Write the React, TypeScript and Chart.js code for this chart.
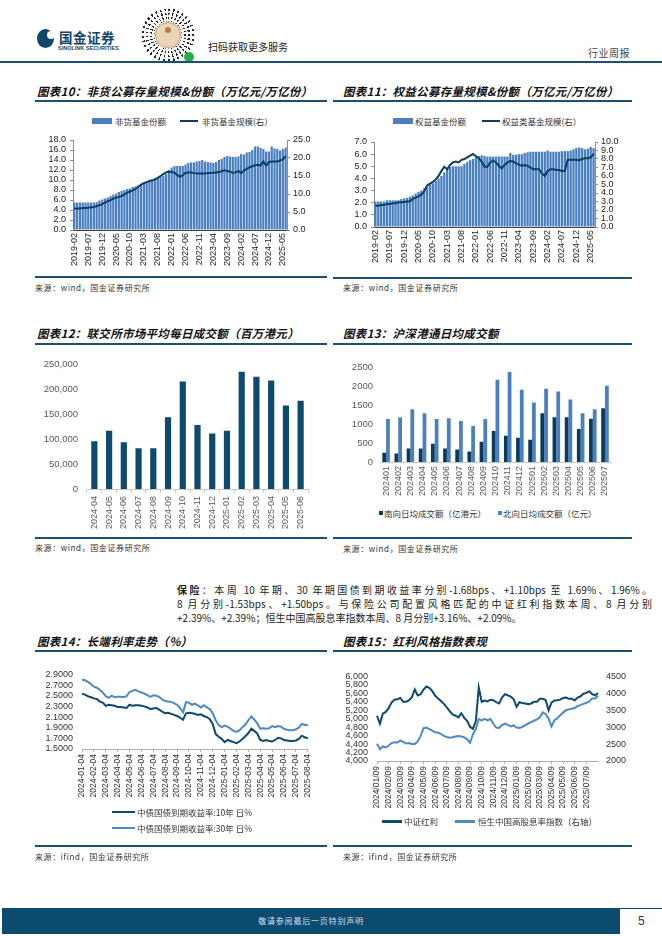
import React, { useEffect, useRef } from 'react';
import { Chart, registerables } from 'chart.js';

Chart.register(...registerables);

const NUM = '"Liberation Sans", Arial, sans-serif';
const CJK = '"Noto Sans CJK SC", "Noto Sans", sans-serif';

const NAVY = '#0d4a6e';
const NAVY_DARK = '#0a3b5b';
const BLUE = '#4a7fc1';
const BLUE_LINE = '#4d88c7';
const RULE = '#1d4f6f';

Chart.defaults.font.family = NUM;
Chart.defaults.color = '#333';

// ---------------- 图表10 / 图表11 (monthly 2019-02 .. 2025-06) ----------------
const fundMonths = [
  '2019-02','2019-03','2019-04','2019-05','2019-06','2019-07','2019-08','2019-09','2019-10','2019-11','2019-12',
  '2020-01','2020-02','2020-03','2020-04','2020-05','2020-06','2020-07','2020-08','2020-09','2020-10','2020-11','2020-12',
  '2021-01','2021-02','2021-03','2021-04','2021-05','2021-06','2021-07','2021-08','2021-09','2021-10','2021-11','2021-12',
  '2022-01','2022-02','2022-03','2022-04','2022-05','2022-06','2022-07','2022-08','2022-09','2022-10','2022-11','2022-12',
  '2023-01','2023-02','2023-03','2023-04','2023-05','2023-06','2023-07','2023-08','2023-09','2023-10','2023-11','2023-12',
  '2024-01','2024-02','2024-03','2024-04','2024-05','2024-06','2024-07','2024-08','2024-09','2024-10','2024-11','2024-12',
  '2025-01','2025-02','2025-03','2025-04','2025-05','2025-06',
];
const fundTickLabels = ['2019-02','2019-07','2019-12','2020-05','2020-10','2021-03','2021-08','2022-01','2022-06','2022-11','2023-04','2023-09','2024-02','2024-07','2024-12','2025-05'];

const nonMmfShares = [
  5.5,5.5,5.5,5.5,5.5,5.5,5.5,5.5,5.6,5.9,
  6.1,6.3,6.5,6.8,7.1,7.3,7.6,7.8,8.0,8.2,
  8.3,8.6,8.7,8.9,9.1,9.4,9.5,9.8,10.0,10.2,
  10.4,10.6,10.8,11.2,12.0,12.5,12.8,12.8,12.8,12.8,
  13.1,13.4,13.5,13.5,13.7,13.8,14.0,13.7,13.6,13.5,
  13.4,13.6,14.0,14.2,14.6,14.8,14.7,14.6,14.6,14.7,
  15.2,15.1,15.5,15.6,16.0,16.7,16.7,16.4,16.2,15.7,
  15.7,16.7,16.3,16.2,15.9,16.2,16.5,
];
const nonMmfScale = [
  5.9,6.0,6.0,6.1,6.1,6.2,6.3,6.4,6.6,6.9,
  7.2,7.6,8.0,8.3,8.7,9.0,9.2,9.4,9.9,10.4,
  10.7,11.0,11.4,12.0,12.6,13.0,13.3,13.6,13.8,14.1,
  14.5,15.0,15.5,16.0,16.2,16.1,15.9,15.3,14.8,15.2,
  15.9,16.0,16.0,15.8,15.7,15.7,15.7,15.7,15.8,15.8,
  15.9,16.0,16.1,16.3,16.6,16.4,16.2,15.9,16.0,16.4,
  15.8,16.5,17.0,17.4,17.7,18.0,18.1,17.9,19.0,17.9,
  18.9,19.0,19.0,19.0,19.3,19.6,20.5,
];
const equityShares = [
  2.1,2.1,2.1,2.1,2.2,2.2,2.2,2.2,2.2,2.3,
  2.35,2.4,2.5,2.6,2.75,2.9,3.0,3.2,3.3,3.5,
  3.6,3.8,4.0,4.2,4.5,4.8,4.95,5.0,5.0,5.0,
  5.0,5.2,5.35,5.5,5.6,5.7,5.85,5.9,5.85,5.8,
  5.8,5.8,5.8,5.8,5.8,5.8,5.8,6.1,5.95,5.95,
  6.0,6.0,6.1,6.15,6.2,6.2,6.2,6.2,6.2,6.2,
  6.3,6.2,6.2,6.2,6.2,6.25,6.25,6.25,6.3,6.4,
  6.5,6.55,6.5,6.4,6.45,6.6,6.5,
];
const equityScale = [
  2.5,2.5,2.6,2.6,2.7,2.7,2.8,2.8,2.9,2.9,
  2.95,3.0,3.0,3.3,3.45,3.6,3.8,4.2,4.9,5.1,
  5.3,5.6,6.0,6.6,7.1,6.8,7.3,7.6,7.7,7.6,
  7.9,8.0,8.2,8.4,8.6,8.3,8.1,7.7,7.1,7.1,
  7.6,7.8,7.6,7.2,6.9,7.3,7.6,7.75,7.7,7.5,
  7.3,7.2,7.3,7.2,7.0,6.8,6.8,6.8,6.3,6.0,
  6.6,6.8,6.8,6.7,6.7,6.6,6.6,7.9,7.9,7.9,
  7.9,7.85,8.0,8.1,8.1,8.2,8.6,
];

// ---------------- 图表12 ----------------
const hkMonths = ['2024-04','2024-05','2024-06','2024-07','2024-08','2024-09','2024-10','2024-11','2024-12','2025-01','2025-02','2025-03','2025-04','2025-05','2025-06'];
const hkTurnover = [95800,117200,93900,82200,82200,144400,216300,128900,111400,117200,235700,226000,218300,167700,177500];

// ---------------- 图表13 ----------------
const connectMonths = ['202401','202402','202403','202404','202405','202406','202407','202408','202409','202410','202411','202412','202501','202502','202503','202504','202505','202506','202507'];
const southbound = [243,226,356,356,486,356,330,278,538,825,694,642,590,1293,1189,1189,877,1146,1424];
const northbound = [1137,1189,1398,1293,1137,1163,1085,955,1137,2179,2387,1918,1580,1944,1866,1658,1293,1398,2023];

// ---------------- 图表14 ----------------
const bondDates = [
  '2024-01-04','2024-01-11','2024-01-18','2024-01-25','2024-02-04','2024-02-11','2024-02-18','2024-02-25',
  '2024-03-04','2024-03-11','2024-03-18','2024-03-25','2024-04-04','2024-04-11','2024-04-18','2024-04-25',
  '2024-05-04','2024-05-11','2024-05-18','2024-05-25','2024-06-04','2024-06-11','2024-06-18','2024-06-25',
  '2024-07-04','2024-07-11','2024-07-18','2024-07-25','2024-08-04','2024-08-11','2024-08-18','2024-08-25',
  '2024-09-04','2024-09-11','2024-09-18','2024-09-25','2024-10-04','2024-10-11','2024-10-18','2024-10-25',
  '2024-11-04','2024-11-11','2024-11-18','2024-11-25','2024-12-04','2024-12-11','2024-12-18','2024-12-25',
  '2025-01-04','2025-01-11','2025-01-18','2025-01-25','2025-02-04','2025-02-11','2025-02-18','2025-02-25',
  '2025-03-04','2025-03-11','2025-03-18','2025-03-25','2025-04-04','2025-04-11','2025-04-18','2025-04-25',
  '2025-05-04','2025-05-11','2025-05-18','2025-05-25','2025-06-04','2025-06-11','2025-06-18','2025-06-25',
  '2025-07-04','2025-07-11','2025-07-18','2025-07-25','2025-08-04',
];
const cgb10y = [
  2.54,2.52,2.49,2.47, 2.45,2.44,2.39,2.37, 2.31,2.33,2.32,2.31, 2.29,2.29,2.28,2.27,
  2.33,2.31,2.32,2.32, 2.31,2.30,2.28,2.25, 2.26,2.27,2.24,2.20, 2.17,2.18,2.16,2.14,
  2.12,2.09,2.05,2.17, 2.18,2.17,2.16,2.14, 2.15,2.12,2.10,2.06, 1.97,1.78,1.73,1.69,
  1.63,1.67,1.65,1.63, 1.61,1.64,1.69,1.74, 1.80,1.88,1.84,1.79, 1.67,1.65,1.67,1.65,
  1.64,1.67,1.71,1.70, 1.67,1.66,1.65,1.65, 1.66,1.69,1.75,1.72, 1.70,
];
const cgb30y = [
  2.80,2.79,2.76,2.72, 2.67,2.65,2.61,2.56, 2.49,2.46,2.50,2.47, 2.48,2.48,2.47,2.49,
  2.57,2.59,2.61,2.58, 2.56,2.54,2.51,2.48, 2.51,2.50,2.48,2.43, 2.40,2.39,2.38,2.36,
  2.33,2.27,2.19,2.38, 2.37,2.33,2.35,2.32, 2.28,2.32,2.28,2.25, 2.17,2.04,1.95,1.91,
  1.94,1.92,1.88,1.84, 1.82,1.85,1.91,1.96, 2.04,2.11,2.05,1.98, 1.88,1.89,1.88,1.89,
  1.93,1.91,1.93,1.92, 1.88,1.86,1.85,1.85, 1.87,1.90,1.97,1.95, 1.95,
];

// ---------------- 图表15 ----------------
const divDates = [
  '2024/01/09','2024/01/16','2024/01/23','2024/01/30','2024/02/09','2024/02/16','2024/02/23','2024/02/29',
  '2024/03/09','2024/03/16','2024/03/23','2024/03/30','2024/04/09','2024/04/16','2024/04/23','2024/04/30',
  '2024/05/09','2024/05/16','2024/05/23','2024/05/30','2024/06/09','2024/06/16','2024/06/23','2024/06/30',
  '2024/07/09','2024/07/16','2024/07/23','2024/07/30','2024/08/09','2024/08/16','2024/08/23','2024/08/30',
  '2024/09/09','2024/09/16','2024/09/23','2024/09/30','2024/10/09','2024/10/16','2024/10/23','2024/10/30',
  '2024/11/09','2024/11/16','2024/11/23','2024/11/30','2024/12/09','2024/12/16','2024/12/23','2024/12/30',
  '2025/01/09','2025/01/16','2025/01/23','2025/01/30','2025/02/09','2025/02/16','2025/02/23','2025/02/28',
  '2025/03/09','2025/03/16','2025/03/23','2025/03/30','2025/04/09','2025/04/16','2025/04/23','2025/04/30',
  '2025/05/09','2025/05/16','2025/05/23','2025/05/30','2025/06/09','2025/06/16','2025/06/23','2025/06/30',
  '2025/07/09','2025/07/16','2025/07/23','2025/07/30','2025/08/06',
];
const csiDividend = [
  5070,4880,5120,5160, 5250,5380,5450,5460, 5490,5400,5400,5430, 5510,5690,5550,5580,
  5690,5760,5730,5650, 5545,5480,5420,5350, 5270,5180,5100,5070, 5030,5130,5020,4950,
  4810,4760,4950,5740, 5400,5430,5410,5450, 5440,5390,5360,5500, 5580,5550,5520,5460,
  5280,5390,5370,5360, 5340,5360,5400,5400, 5470,5470,5440,5200, 5380,5430,5435,5450,
  5490,5500,5470,5470, 5435,5500,5530,5590, 5610,5650,5580,5550, 5610,
];
const hsHighDiv = [
  2512,2350,2430,2400, 2450,2530,2555,2545, 2600,2565,2520,2530, 2500,2500,2580,2740,
  2970,2990,2940,2900, 2850,2835,2800,2740, 2710,2690,2700,2723, 2741,2723,2700,2640,
  2540,2790,2950,3240, 3199,3245,3200,3240, 3100,2990,2980,3060, 3108,3070,3020,3050,
  2990,2975,3010,3060, 3108,3150,3190,3230, 3290,3440,3390,3250, 3020,3199,3260,3350,
  3430,3500,3525,3547, 3566,3630,3650,3690, 3720,3760,3850,3850, 3930,
];

// ---------------- helpers ----------------
const noPlugins = { legend: { display: false }, tooltip: { enabled: false } };
const fixW = (w: number) => (s: any) => { s.width = w; };
const fixH = (h: number) => (s: any) => { s.height = h; };
const rotX = (size: number, padding: number, color: string, cb: (i: number) => string | null) => ({
  autoSkip: false, minRotation: 90, maxRotation: 90, padding, color,
  font: { family: NUM, size }, callback: (_v: any, i: number) => cb(i),
});
const yTicks = (step: number, padding: number, color: string, size: number, fmt: (v: number) => string) => ({
  stepSize: step, padding, color, autoSkip: false, font: { family: NUM, size }, callback: (v: number) => fmt(v),
});

function ChartCanvas({ x, y, w, h, make }: { x: number; y: number; w: number; h: number; make: () => any }) {
  const ref = useRef<HTMLCanvasElement>(null);
  useEffect(() => {
    const c = new Chart(ref.current as HTMLCanvasElement, make());
    return () => c.destroy();
  }, []);
  return (
    <canvas ref={ref} width={w} height={h}
      style={{ position: 'absolute', left: x, top: y, width: w, height: h, display: 'block' }} />
  );
}

function fundChart(labelsTick: string[], shares: number[], scale: number[], leftMax: number, leftStep: number,
  rightMax: number, rightStep: number, lw: number, rw: number, padTop: number, xh: number, barLabel: string, lineLabel: string) {
  return () => ({
    type: 'bar',
    data: {
      labels: fundMonths,
      datasets: [
        { type: 'line', label: lineLabel, data: scale, yAxisID: 'y1', borderColor: '#0b3f62', borderWidth: 2,
          pointRadius: 0, tension: 0, order: 0 },
        { type: 'bar', label: barLabel, data: shares, yAxisID: 'y', backgroundColor: BLUE,
          barPercentage: 0.8, categoryPercentage: 1, order: 1 },
      ],
    },
    options: {
      responsive: false, animation: false, maintainAspectRatio: false,
      layout: { padding: { top: padTop, left: 0, right: 0, bottom: 0 } },
      plugins: noPlugins,
      scales: {
        x: {
          grid: { display: false, drawTicks: false },
          border: { display: true, color: '#404040', width: 1 },
          ticks: rotX(9, 3, '#222', (i) => (labelsTick.includes(fundMonths[i]) ? fundMonths[i] : null)),
          afterFit: fixH(xh),
        },
        y: {
          position: 'left', min: 0, max: leftMax,
          ticks: yTicks(leftStep, 4, '#222', 9, (v) => v.toFixed(1)),
          grid: { display: true, drawOnChartArea: false, drawTicks: true, tickLength: 3, color: '#8c8c8c' },
          border: { display: true, color: '#8c8c8c' },
          afterFit: fixW(lw),
        },
        y1: {
          position: 'right', min: 0, max: rightMax,
          ticks: yTicks(rightStep, 3, '#222', 9, (v) => v.toFixed(1)),
          grid: { display: true, drawOnChartArea: false, drawTicks: true, tickLength: 3, color: '#8c8c8c' },
          border: { display: true, color: '#8c8c8c' },
          afterFit: fixW(rw),
        },
      },
    },
  });
}

const chart10 = fundChart(fundTickLabels, nonMmfShares, nonMmfScale, 18, 2, 25, 5, 43, 33, 10, 46, '非货基金份额', '非货基金规模(右）');
const chart11 = fundChart(fundTickLabels, equityShares, equityScale, 7, 1, 10, 1, 44, 25, 12, 49, '权益基金份额', '权益类基金规模(右）');

const chart12 = () => ({
  type: 'bar',
  data: { labels: hkMonths, datasets: [{ label: '联交所市场平均每日成交额', data: hkTurnover, backgroundColor: NAVY, barPercentage: 0.42, categoryPercentage: 1 }] },
  options: {
    responsive: false, animation: false, maintainAspectRatio: false,
    layout: { padding: { top: 11, right: 12, left: 0, bottom: 0 } },
    plugins: noPlugins,
    scales: {
      x: {
        grid: { display: true, drawOnChartArea: false, drawTicks: true, tickLength: 4, color: '#c8c8c8' },
        border: { display: true, color: '#c8c8c8' },
        ticks: rotX(9, 3, '#595959', (i) => hkMonths[i]),
        afterFit: fixH(46),
      },
      y: {
        min: 0, max: 250000,
        ticks: yTicks(50000, 9, '#595959', 9.5, (v) => v.toLocaleString('en-US')),
        grid: { display: false, drawTicks: false },
        border: { display: false },
        afterFit: fixW(57),
      },
    },
  },
});

const chart13 = () => ({
  type: 'bar',
  data: {
    labels: connectMonths,
    datasets: [
      { label: '南向日均成交额（亿港元）', data: southbound, backgroundColor: NAVY_DARK, barPercentage: 1, categoryPercentage: 0.62 },
      { label: '北向日均成交额（亿元）', data: northbound, backgroundColor: BLUE, barPercentage: 1, categoryPercentage: 0.62 },
    ],
  },
  options: {
    responsive: false, animation: false, maintainAspectRatio: false,
    layout: { padding: { top: 11, right: 8, left: 0, bottom: 0 } },
    plugins: noPlugins,
    scales: {
      x: {
        grid: { display: false, drawTicks: false },
        border: { display: true, color: '#c8c8c8' },
        ticks: rotX(9, 4, '#595959', (i) => connectMonths[i]),
        afterFit: fixH(41),
      },
      y: {
        min: 0, max: 2500,
        ticks: yTicks(500, 7, '#595959', 9.5, (v) => String(v)),
        grid: { display: false, drawTicks: false },
        border: { display: false },
        afterFit: fixW(40),
      },
    },
  },
});

const chart14 = () => ({
  type: 'line',
  data: {
    labels: bondDates,
    datasets: [
      { label: '中债国债到期收益率:10年 日%', data: cgb10y, borderColor: NAVY, borderWidth: 2, pointRadius: 0, tension: 0 },
      { label: '中债国债到期收益率:30年 日%', data: cgb30y, borderColor: BLUE_LINE, borderWidth: 2, pointRadius: 0, tension: 0 },
    ],
  },
  options: {
    responsive: false, animation: false, maintainAspectRatio: false,
    layout: { padding: { top: 7, right: 12, left: 0, bottom: 0 } },
    plugins: noPlugins,
    scales: {
      x: {
        grid: { display: true, drawOnChartArea: false, drawTicks: true, tickLength: 3, color: '#b0b0b0' },
        border: { display: true, color: '#b0b0b0' },
        ticks: rotX(8.5, 2, '#333', (i) => (bondDates[i].endsWith('-04') ? bondDates[i] : null)),
        afterFit: fixH(51),
      },
      y: {
        min: 1.5, max: 2.9,
        ticks: yTicks(0.2, 9, '#333', 9, (v) => v.toFixed(4)),
        grid: { display: false, drawTicks: false },
        border: { display: false },
        afterFit: fixW(52),
      },
    },
  },
});

const chart15 = () => ({
  type: 'line',
  data: {
    labels: divDates,
    datasets: [
      { label: '中证红利', data: csiDividend, yAxisID: 'y', borderColor: NAVY, borderWidth: 2, pointRadius: 0, tension: 0, order: 0 },
      { label: '恒生中国高股息率指数（右轴）', data: hsHighDiv, yAxisID: 'y1', borderColor: BLUE_LINE, borderWidth: 2, pointRadius: 0, tension: 0, order: 1 },
    ],
  },
  options: {
    responsive: false, animation: false, maintainAspectRatio: false,
    layout: { padding: { top: 8, right: 0, left: 0, bottom: 0 } },
    plugins: noPlugins,
    scales: {
      x: {
        grid: { display: true, drawOnChartArea: false, drawTicks: true, tickLength: 3, color: '#b0b0b0' },
        border: { display: true, color: '#b0b0b0' },
        ticks: rotX(8.5, 2, '#333', (i) => (divDates[i].endsWith('/09') ? divDates[i] : null)),
        afterFit: fixH(47),
      },
      y: {
        position: 'left', min: 4000, max: 6000,
        ticks: yTicks(200, 9, '#333', 9, (v) => v.toLocaleString('en-US')),
        grid: { display: false, drawTicks: false },
        border: { display: false },
        afterFit: fixW(37),
      },
      y1: {
        position: 'right', min: 2000, max: 4500,
        ticks: yTicks(500, 8, '#333', 9, (v) => String(v)),
        grid: { display: false, drawTicks: false },
        border: { display: false },
        afterFit: fixW(37),
      },
    },
  },
});

// ---------------- page pieces ----------------
const abs = (left: number, top: number, extra: React.CSSProperties = {}): React.CSSProperties => ({ position: 'absolute', left, top, ...extra });

function Title({ x, y, text }: { x: number; y: number; text: string }) {
  return <div style={abs(x, y - 8, { font: `italic bold 11.5px ${CJK}`, lineHeight: '16px', whiteSpace: 'nowrap', color: '#111', letterSpacing: '0.3px' })}>{text}</div>;
}
function Rule({ x1, x2, y }: { x1: number; x2: number; y: number }) {
  return <div style={abs(x1, y - 0.75, { width: x2 - x1, height: 1.5, background: RULE })} />;
}
function Source({ x, y, text }: { x: number; y: number; text: string }) {
  return <div style={abs(x, y - 6, { font: `8px ${CJK}`, lineHeight: '12px', whiteSpace: 'nowrap', color: '#333', letterSpacing: '0.6px' })}>{text}</div>;
}
function LegText({ x, y, text }: { x: number; y: number; text: string }) {
  return <div style={abs(x, y - 6, { font: `8.5px ${CJK}`, lineHeight: '12px', whiteSpace: 'nowrap', color: '#333' })}>{text}</div>;
}
function Swatch({ x, y, w, h, color }: { x: number; y: number; w: number; h: number; color: string }) {
  return <div style={abs(x, y - h / 2, { width: w, height: h, background: color })} />;
}

export default function App() {
  useEffect(() => {
    document.body.style.margin = '0';
  }, []);
  const para: React.CSSProperties = { font: `10px ${CJK}`, lineHeight: '14px', whiteSpace: 'nowrap', color: '#222' };
  return (
    <div style={{ position: 'absolute', left: 0, top: 0, width: 662, height: 936, background: '#fff', overflow: 'hidden' }}>
      {/* header */}
      <div style={abs(37, 29, { width: 17, height: 19, borderRadius: '50%', background: '#12466b' })} />
      <div style={abs(47, 31, { width: 8, height: 8, borderRadius: '50%', background: '#fff' })} />
      <div style={abs(59, 29, { font: `bold 13.5px ${CJK}`, lineHeight: '16px', color: '#12466b', letterSpacing: '0.5px' })}>国金证券</div>
      <div style={abs(58, 45, { font: `bold 5.5px ${NUM}`, lineHeight: '7px', color: '#12466b', whiteSpace: 'nowrap' })}>SINOLINK SECURITIES</div>
      {/* mini-program code */}
      <div style={abs(140, 7, { width: 56, height: 56, borderRadius: '50%', background: 'repeating-conic-gradient(#2a2a2a 0deg 4deg, #fff 4deg 11deg)', WebkitMaskImage: 'radial-gradient(circle, transparent 0 13px, #000 14px 27px, transparent 28px)', maskImage: 'radial-gradient(circle, transparent 0 13px, #000 14px 27px, transparent 28px)' })} />
      <div style={abs(140, 7, { width: 56, height: 56, borderRadius: '50%', background: 'repeating-radial-gradient(circle, transparent 0 2.5px, rgba(255,255,255,0.9) 2.5px 4px)' })} />
      <div style={abs(155, 22, { width: 26, height: 26, borderRadius: '50%', background: '#ead5b8', border: '1px solid #c99a6a', boxSizing: 'border-box' })} />
      <div style={abs(165, 27, { width: 6, height: 6, borderRadius: '50%', background: '#b47a45' })} />
      <div style={abs(184, 52, { width: 10, height: 10, borderRadius: '50%', background: '#2aae4a' })} />
      <div style={abs(208, 41, { font: `10px ${CJK}`, lineHeight: '12px', color: '#222', whiteSpace: 'nowrap' })}>扫码获取更多服务</div>
      <div style={abs(588, 47, { font: `10px ${CJK}`, lineHeight: '12px', color: '#444', whiteSpace: 'nowrap', letterSpacing: '0.5px' })}>行业周报</div>
      <div style={abs(0, 61, { width: 662, height: 1.5, background: RULE })} />

      {/* 图表10 / 11 */}
      <Title x={37} y={91} text="图表10：非货公募存量规模&份额（万亿元/万亿份）" />
      <Title x={343} y={91} text="图表11：权益公募存量规模&份额（万亿元/万亿份）" />
      <Rule x1={35} x2={327} y={101} />
      <Rule x1={333} x2={632} y={101} />
      <Swatch x={92} y={121} w={20} h={6} color={BLUE} />
      <LegText x={115} y={121} text="非货基金份额" />
      <Swatch x={180} y={121} w={18} h={2} color="#0b3f62" />
      <LegText x={202} y={121} text="非货基金规模(右）" />
      <Swatch x={393} y={121} w={20} h={6} color={BLUE} />
      <LegText x={415} y={121} text="权益基金份额" />
      <Swatch x={482} y={121} w={18} h={2} color="#0b3f62" />
      <LegText x={502} y={121} text="权益类基金规模(右）" />
      <ChartCanvas x={30} y={130} w={290} h={146} make={chart10} />
      <ChartCanvas x={330} y={130} w={290} h={146} make={chart11} />
      <Rule x1={35} x2={327} y={277} />
      <Rule x1={333} x2={632} y={278} />
      <Source x={35} y={288} text="来源：wind，国金证券研究所" />
      <Source x={343} y={288} text="来源：wind，国金证券研究所" />

      {/* 图表12 / 13 */}
      <Title x={37} y={333} text="图表12：联交所市场平均每日成交额（百万港元）" />
      <Title x={343} y={333} text="图表13：沪深港通日均成交额" />
      <Rule x1={35} x2={327} y={344} />
      <Rule x1={333} x2={632} y={344} />
      <ChartCanvas x={30} y={350} w={290} h={185} make={chart12} />
      <ChartCanvas x={340} y={355} w={280} h={148} make={chart13} />
      <Swatch x={379} y={513} w={4} h={4} color={NAVY_DARK} />
      <LegText x={384} y={513} text="南向日均成交额（亿港元）" />
      <Swatch x={498} y={513} w={4} h={4} color={BLUE} />
      <LegText x={503} y={513} text="北向日均成交额（亿元）" />
      <Rule x1={35} x2={327} y={538} />
      <Rule x1={333} x2={632} y={538} />
      <Source x={35} y={548} text="来源：wind，国金证券研究所" />
      <Source x={343} y={549} text="来源：wind，国金证券研究所" />

      {/* paragraph */}
      <div style={abs(177, 583, { ...para, width: 475, textAlign: 'justify', textAlignLast: 'justify' })}>
        <b>保险</b>：本周 10 年期、30 年期国债到期收益率分别-1.68bps、+1.10bps 至 1.69%、1.96%。
      </div>
      <div style={abs(177, 597, { ...para, width: 475, textAlign: 'justify', textAlignLast: 'justify' })}>
        8 月分别-1.53bps、+1.50bps。与保险公司配置风格匹配的中证红利指数本周、8 月分别
      </div>
      <div style={abs(177, 611, para)}>
        +2.39%、+2.39%；恒生中国高股息率指数本周、8 月分别+3.16%、+2.09%。
      </div>

      {/* 图表14 / 15 */}
      <Title x={37} y={641} text="图表14：长端利率走势（%）" />
      <Title x={343} y={641} text="图表15：红利风格指数表现" />
      <Rule x1={35} x2={327} y={651} />
      <Rule x1={333} x2={632} y={651} />
      <ChartCanvas x={30} y={660} w={290} h={140} make={chart14} />
      <ChartCanvas x={340} y={662} w={295} h={146} make={chart15} />
      <Swatch x={112} y={812} w={23} h={2.5} color={NAVY} />
      <LegText x={137} y={812} text="中债国债到期收益率:10年 日%" />
      <Swatch x={112} y={828} w={23} h={2.5} color={BLUE_LINE} />
      <LegText x={137} y={828} text="中债国债到期收益率:30年 日%" />
      <Swatch x={382} y={821} w={20} h={3} color={NAVY} />
      <LegText x={404} y={821} text="中证红利" />
      <Swatch x={455} y={821} w={20} h={3} color={BLUE_LINE} />
      <LegText x={478} y={821} text="恒生中国高股息率指数（右轴）" />
      <Rule x1={35} x2={327} y={846} />
      <Rule x1={333} x2={632} y={846} />
      <Source x={35} y={857} text="来源：ifind，国金证券研究所" />
      <Source x={343} y={857} text="来源：ifind，国金证券研究所" />

      {/* footer */}
      <div style={abs(2, 908, { width: 618, height: 26, background: '#0a4b6f' })} />
      <div style={abs(620, 908, { width: 42, height: 1, background: '#0a4b6f' })} />
      <div style={abs(2, 915, { width: 618, textAlign: 'center', font: `8px ${CJK}`, lineHeight: '12px', color: '#d5dfe7', letterSpacing: '0.8px' })}>敬请参阅最后一页特别声明</div>
      <div style={abs(638, 914, { font: `12px ${NUM}`, lineHeight: '14px', color: '#333' })}>5</div>
    </div>
  );
}
